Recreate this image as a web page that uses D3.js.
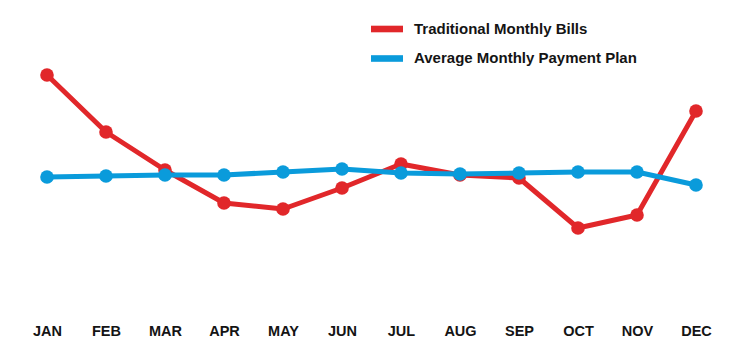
<!DOCTYPE html>
<html>
<head>
<meta charset="utf-8">
<script src="https://cdn.jsdelivr.net/npm/d3@7"></script>
<style>
  html, body { margin: 0; padding: 0; background: #fff; }
  svg { display: block; }
  text { font-family: "Liberation Sans", Arial, sans-serif; font-weight: bold; fill: #141414; }
</style>
</head>
<body>
<svg id="chart" width="743" height="355"></svg>
<script>
const months = ["JAN","FEB","MAR","APR","MAY","JUN","JUL","AUG","SEP","OCT","NOV","DEC"];
const traditional = [225, 168, 130, 97, 91, 112, 136, 125, 122, 72, 85, 189];
const paymentPlan = [123, 124, 125, 125, 128, 131, 127, 126, 127, 128, 128, 115];
const seriesNames = ["Traditional Monthly Bills", "Average Monthly Payment Plan"];
const seriesColors = ["#E1272A", "#0A9BDB"];

const svg = d3.select("#chart");
const x = d3.scalePoint().domain(months).range([47, 696]);
const y = d3.scaleLinear().domain([0, 260]).range([300, 40]);

// x axis labels
const xAxis = d3.axisBottom(x).tickSize(0).tickPadding(0);
const gx = svg.append("g").attr("transform", "translate(0,336)").call(xAxis);
gx.select(".domain").remove();
gx.selectAll("text")
  .attr("dy", 0)
  .attr("y", 0)
  .style("font-size", "14.5px")
  .style("font-family", "'Liberation Sans', Arial, sans-serif")
  .style("font-weight", "bold")
  .attr("fill", "#141414");

const line = d3.line().x((d, i) => x(months[i])).y(d => y(d));

const data = [traditional, paymentPlan];
data.forEach((vals, k) => {
  const g = svg.append("g");
  g.append("path")
    .attr("d", line(vals))
    .attr("fill", "none")
    .attr("stroke", seriesColors[k])
    .attr("stroke-width", 5)
    .attr("stroke-linejoin", "round");
  g.selectAll("circle").data(vals).join("circle")
    .attr("cx", (d, i) => x(months[i]))
    .attr("cy", d => y(d))
    .attr("r", 6.8)
    .attr("fill", seriesColors[k]);
});

// legend
const legend = svg.append("g");
seriesNames.forEach((name, k) => {
  const cy = 29 + k * 29.5;
  legend.append("rect")
    .attr("x", 371).attr("y", cy - 3.3)
    .attr("width", 32).attr("height", 6.6)
    .attr("fill", seriesColors[k]);
  legend.append("text")
    .attr("x", 414).attr("y", cy + 4.8)
    .style("font-size", "15px")
    .text(name);
});
</script>
</body>
</html>
